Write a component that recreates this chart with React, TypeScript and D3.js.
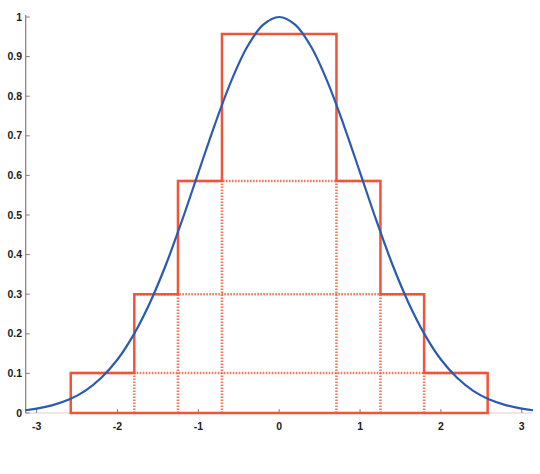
import React from "react";
import * as d3 from "d3";

const W = 540;
const H = 474;

// curve samples
const curveX = [-3.14, -3.0, -2.8, -2.6, -2.4, -2.2, -2.0, -1.8, -1.6, -1.4, -1.2, -1.0, -0.8, -0.6, -0.4, -0.2, 0,
  0.2, 0.4, 0.6, 0.8, 1.0, 1.2, 1.4, 1.6, 1.8, 2.0, 2.2, 2.4, 2.6, 2.8, 3.0, 3.14];
const curveY = [0.007, 0.011, 0.02, 0.034, 0.056, 0.089, 0.135, 0.198, 0.278, 0.375, 0.487, 0.607, 0.726, 0.835, 0.923, 0.98, 1.0,
  0.98, 0.923, 0.835, 0.726, 0.607, 0.487, 0.375, 0.278, 0.198, 0.135, 0.089, 0.056, 0.034, 0.02, 0.011, 0.007];

// layers: half width and top level, bottom of each layer is the previous top
const layerHalfWidth = [2.578, 1.792, 1.252, 0.708];
const layerTop = [0.101, 0.3, 0.586, 0.957];

const xTicks = [-3, -2, -1, 0, 1, 2, 3];
const yTicks = [0, 0.1, 0.2, 0.3, 0.4, 0.5, 0.6, 0.7, 0.8, 0.9, 1];

const x = d3.scaleLinear().domain([-3.135, 3.135]).range([25.7, 532.7]);
const y = d3.scaleLinear().domain([0, 1]).range([413, 17]);

const RED = "#f0553a";
const BLUE = "#2a5bb0";

export default function App() {
  const line = d3
    .line<number>()
    .x((_, i) => x(curveX[i]))
    .y((d) => y(d))
    .curve(d3.curveCatmullRom);

  // staircase outline
  const pts: [number, number][] = [];
  layerHalfWidth.forEach((w, i) => {
    const bottom = i === 0 ? 0 : layerTop[i - 1];
    pts.push([-w, bottom], [-w, layerTop[i]]);
  });
  const right: [number, number][] = [];
  for (let i = layerHalfWidth.length - 1; i >= 0; i--) {
    const bottom = i === 0 ? 0 : layerTop[i - 1];
    right.push([layerHalfWidth[i], layerTop[i]], [layerHalfWidth[i], bottom]);
  }
  const outline = d3.line<[number, number]>().x((d) => x(d[0])).y((d) => y(d[1]))([
    ...pts,
    ...right,
  ]) + "Z";

  const font = { fontFamily: "Liberation Sans, Arial, sans-serif", fontSize: 10.5, fontWeight: 700, fill: "#1a1a1a" };
  const dotted = { stroke: RED, strokeOpacity: 0.8, strokeWidth: 2.6, strokeDasharray: "1.6,1.4" };

  return (
    <div style={{ position: "absolute", left: 0, top: 0 }}>
      <svg width={W} height={H} style={{ display: "block", background: "#fff" }}>
        {/* axes */}
        <line x1={x(-3.135)} x2={x(3.135)} y1={y(0)} y2={y(0)} stroke="#e3cdc6" strokeWidth={1.2} />
        <line x1={x(-3.135)} x2={x(-3.135)} y1={y(0)} y2={y(1) - 2} stroke="#8c7a76" strokeWidth={1.2} />
        {yTicks.map((t) => (
          <g key={t}>
            <line x1={x(-3.135)} x2={x(-3.135) + 4} y1={y(t)} y2={y(t)} stroke="#8c7a76" strokeWidth={1} />
            <text x={22} y={y(t)} dy="0.35em" textAnchor="end" {...font}>
              {d3.format("~g")(t)}
            </text>
          </g>
        ))}
        {xTicks.map((t) => (
          <g key={t}>
            <line x1={x(t)} x2={x(t)} y1={y(0)} y2={y(0) - 4} stroke="#8c7a76" strokeWidth={1} />
            <text x={x(t)} y={430} textAnchor="middle" {...font}>
              {t}
            </text>
          </g>
        ))}

        {/* dotted inner divisions */}
        {layerHalfWidth.slice(1).map((w, i) => (
          <g key={"d" + i}>
            <line x1={x(-layerHalfWidth[i])} x2={x(layerHalfWidth[i])} y1={y(layerTop[i])} y2={y(layerTop[i])} {...dotted} />
            <line x1={x(-w)} x2={x(-w)} y1={y(0)} y2={y(layerTop[i])} {...dotted} />
            <line x1={x(w)} x2={x(w)} y1={y(0)} y2={y(layerTop[i])} {...dotted} />
          </g>
        ))}

        {/* solid staircase */}
        <path d={outline} fill="none" stroke={RED} strokeWidth={2.5} />

        {/* curve */}
        <path d={line(curveY) || ""} fill="none" stroke={BLUE} strokeWidth={2.2} />
      </svg>
    </div>
  );
}
